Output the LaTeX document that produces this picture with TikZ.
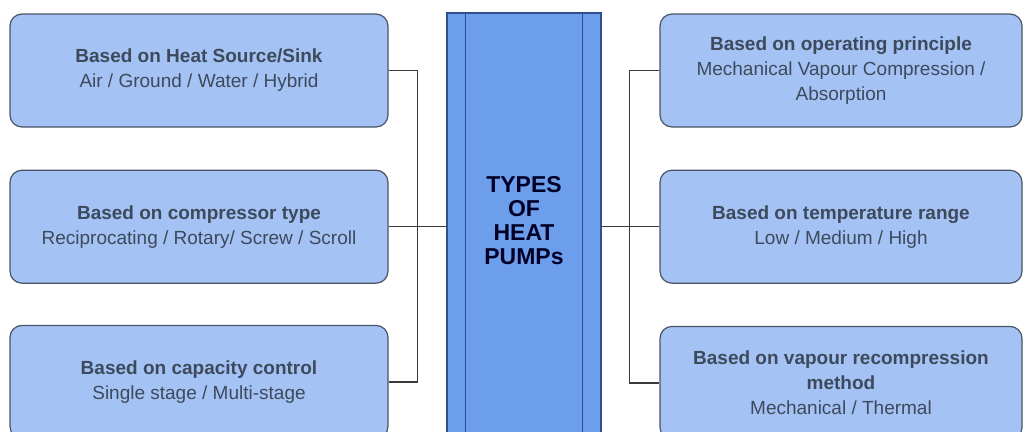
\documentclass[tikz,border=0pt]{standalone}
\usepackage{fontspec}
\setmainfont{Liberation Sans}
\usetikzlibrary{positioning}
\definecolor{hell}{HTML}{A4C2F4}
\definecolor{mittel}{HTML}{6D9EEB}
\definecolor{rand}{HTML}{4A5466}
\definecolor{mrand}{HTML}{2F4F8F}
\definecolor{schrift}{HTML}{3D4A5C}
\definecolor{linie}{HTML}{3A3A3A}
\tikzset{
  art/.style={rectangle,rounded corners=12pt,fill=hell,draw=rand,line width=1.2pt,
    minimum width=378pt,minimum height=113pt,inner sep=0pt,align=center,
    text=schrift,font=\fontsize{19}{25}\selectfont},
  mitte/.style={rectangle,fill=mittel,draw=mrand,line width=1.2pt,
    minimum width=154pt,minimum height=427pt,inner sep=0pt},
  titel/.style={align=center,inner sep=0pt,text=black!85!blue,
    font=\bfseries\fontsize{23}{24}\selectfont},
  leit/.style={linie,line width=1.3pt},
  spalt/.style={mrand,line width=1.2pt},
}

\begin{document}
\begin{tikzpicture}[x=1pt,y=-1pt]
  \useasboundingbox[fill=white] (0,0) rectangle (1025,431);
  \clip (0,0) rectangle (1025,431);
  \node[mitte] (typen) at (524,226.5) {};
  \draw[spalt] ([xshift=19pt]typen.north west) -- ([xshift=19pt]typen.south west);
  \draw[spalt] ([xshift=-19pt]typen.north east) -- ([xshift=-19pt]typen.south east);
  \node[titel] (typentext) at ([yshift=6pt]typen.center) {TYPES\\OF\\HEAT\\PUMPs};
  \node[art] (quelle) at (199,70.5) {\textbf{Based on Heat Source/Sink}\\Air / Ground / Water / Hybrid};
  \node[art,below=42pt of quelle] (verdichter) {\textbf{Based on compressor type}\\Reciprocating / Rotary/ Screw / Scroll};
  \node[art,below=41pt of verdichter] (leistung) {\textbf{Based on capacity control}\\Single stage / Multi-stage};
  \node[art,minimum width=362pt] (prinzip) at (841,70.5) {\textbf{Based on operating principle}\\Mechanical Vapour Compression /\\Absorption};
  \node[art,minimum width=362pt,below=42pt of prinzip] (temperatur) {\textbf{Based on temperature range}\\Low / Medium / High};
  \node[art,minimum width=362pt,below=42pt of temperatur] (brueden) {\textbf{Based on vapour recompression}\\\textbf{method}\\Mechanical / Thermal};
  \draw[leit] (quelle.east) -- ++(29,0) |- (leistung.east);
  \draw[leit] (verdichter.east) -- (verdichter.east -| typen.west);
  \draw[leit] (prinzip.west) -- ++(-30,0) |- (brueden.west);
  \draw[leit] (typen.east |- temperatur.west) -- (temperatur.west);
\end{tikzpicture}
\end{document}
